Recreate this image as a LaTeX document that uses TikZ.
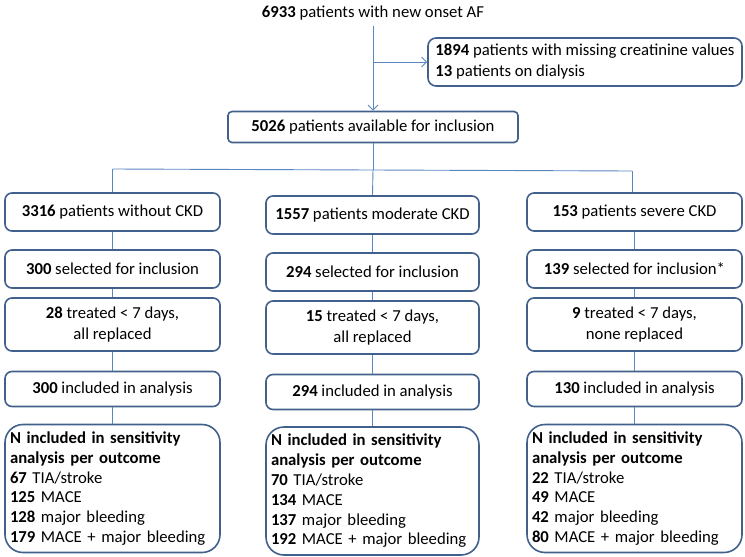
\documentclass[tikz,border=0pt]{standalone}
\usepackage{fontspec}
\setmainfont{Carlito}
\usetikzlibrary{arrows.meta}
\definecolor{boxblue}{HTML}{41608C}
\definecolor{linkblue}{HTML}{5A86C0}
\begin{document}
\begin{tikzpicture}[x=1pt,y=-1pt,
  every node/.style={font=\fontsize{16.7}{21}\selectfont, text=black},
  stepbox/.style={draw=boxblue, line width=1.6pt, rounded corners=7pt, align=center, inner sep=0pt},
  bigbox/.style={draw=boxblue, line width=1.6pt, rounded corners=18pt, align=left, inner xsep=5pt, inner ysep=0pt,
     text width=205pt, minimum height=128pt, font=\fontsize{16.7}{19.8}\selectfont},
  link/.style={draw=linkblue, line width=0.9pt},
  arr/.style={link, -{Straight Barb[length=5pt,width=10pt,line width=0.9pt]}}]
\useasboundingbox (0,0) rectangle (745,557);

\node (top) at (373,13) {\textbf{6933} patients with new onset AF};
\node[stepbox, rounded corners=8pt, align=left, minimum width=314pt, minimum height=48pt] (excl) at (585,62)
  {\textbf{1894} patients with missing creatinine values\\ \textbf{13} patients on dialysis};
\node[stepbox, rounded corners=4pt, minimum width=290pt, minimum height=31pt] (avail) at (373,127)
  {\textbf{5026} patients available for inclusion};

% row 1
\node[stepbox, minimum width=215pt, minimum height=38pt] (a1) at (112.5,212) {\textbf{3316} patients without CKD};
\node[stepbox, minimum width=213pt, minimum height=38pt] (b1) at (372.5,215) {\textbf{1557} patients moderate CKD};
\node[stepbox, minimum width=215pt, minimum height=38pt] (c1) at (634.5,212) {\textbf{153} patients severe CKD};
% row 2
\node[stepbox, minimum width=215pt, minimum height=38pt] (a2) at (112.5,269) {\textbf{300} selected for inclusion};
\node[stepbox, minimum width=213pt, minimum height=38pt] (b2) at (372.5,272) {\textbf{294} selected for inclusion};
\node[stepbox, minimum width=215pt, minimum height=38pt] (c2) at (634.5,269) {\textbf{139} selected for inclusion*};
% row 3
\node[stepbox, minimum width=215pt, minimum height=53pt] (a3) at (112.5,324.5) {\textbf{28} treated < 7 days,\\ all replaced};
\node[stepbox, minimum width=213pt, minimum height=53pt] (b3) at (372.5,327.5) {\textbf{15} treated < 7 days,\\ all replaced};
\node[stepbox, minimum width=215pt, minimum height=53pt] (c3) at (634.5,324.5) {\textbf{9} treated < 7 days,\\ none replaced};
% row 4
\node[stepbox, minimum width=215pt, minimum height=35pt] (a4) at (112.5,389) {\textbf{300} included in analysis};
\node[stepbox, minimum width=213pt, minimum height=35pt] (b4) at (372.5,392) {\textbf{294} included in analysis};
\node[stepbox, minimum width=215pt, minimum height=35pt] (c4) at (634.5,389) {\textbf{130} included in analysis};
% row 5
\node[bigbox] (a5) at (112.5,488.5) {\textbf{N included in sensitivity}\\ \textbf{analysis per outcome}\\ \textbf{67} TIA/stroke\\ \textbf{125} MACE\\ \textbf{128} major bleeding\\ \textbf{179} MACE + major bleeding};
\node[bigbox, text width=203pt] (b5) at (372.5,491) {\textbf{N included in sensitivity}\\ \textbf{analysis per outcome}\\ \textbf{70} TIA/stroke\\ \textbf{134} MACE\\ \textbf{137} major bleeding\\ \textbf{192} MACE + major bleeding};
\node[bigbox] (c5) at (634.5,488.5) {\textbf{N included in sensitivity}\\ \textbf{analysis per outcome}\\ \textbf{22} TIA/stroke\\ \textbf{49} MACE\\ \textbf{42} major bleeding\\ \textbf{80} MACE + major bleeding};

% connectors
\coordinate (s) at (373,26);
\coordinate (br) at (373,62);
\draw[arr] (s) -- (avail.north);
\draw[arr] (br) -- (excl.west);
\coordinate (bus) at (373,170);
\coordinate (busL) at (112.5,169);
\coordinate (busR) at (632,171);
\draw[link] (avail.south) -- (bus);
\draw[link] (busL) -- (busR);
\draw[link] (busL) -- (a1.north);
\draw[link] (busR) -- (busR |- c1.north);
\draw[link] (bus) -- (b1.north);
\foreach \c in {a,b,c}{
  \draw[link] (\c1.south) -- (\c2.north);
  \draw[link] (\c2.south) -- (\c3.north);
  \draw[link] (\c3.south) -- (\c4.north);
  \draw[link] (\c4.south) -- (\c5.north);
}
\end{tikzpicture}
\end{document}
